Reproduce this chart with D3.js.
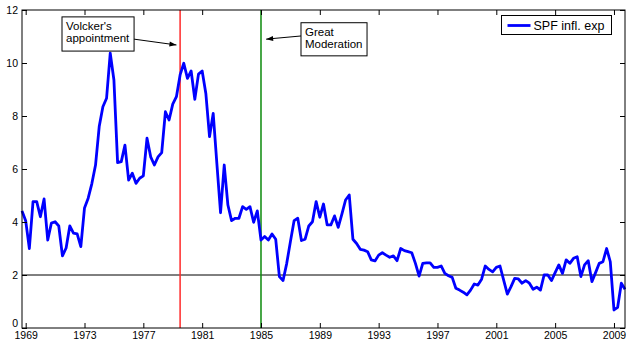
<!DOCTYPE html>
<html>
<head>
<meta charset="utf-8">
<script src="https://cdn.jsdelivr.net/npm/d3@7/dist/d3.min.js"></script>
<style>
  html, body { margin: 0; padding: 0; background: #fff; }
  svg { display: block; font-family: "Liberation Sans", Arial, Helvetica, sans-serif; }
</style>
</head>
<body>
<svg id="chart" width="626" height="341"></svg>
<script>
// Survey of Professional Forecasters: expected inflation, quarterly from 1968Q4
const startYear = 1968.75;
const spfInflExp = [
  4.42, 4.05, 3.00, 4.77, 4.77, 4.20, 4.87, 3.32, 3.96, 4.01,
  3.85, 2.72, 3.02, 3.85, 3.58, 3.55, 3.07, 4.53, 4.90, 5.45,
  6.15, 7.60, 8.35, 8.67, 10.37, 9.36, 6.24, 6.28, 6.90, 5.58,
  5.84, 5.46, 5.65, 5.74, 7.16, 6.46, 6.15, 6.46, 6.62, 8.16,
  7.85, 8.45, 8.73, 9.55, 9.99, 9.42, 9.70, 8.63, 9.58, 9.70,
  8.85, 7.22, 8.10, 6.20, 4.35, 6.15, 4.64, 4.05, 4.14, 4.14,
  4.58, 4.48, 4.58, 3.99, 4.42, 3.32, 3.45, 3.32, 3.55, 3.35,
  1.94, 1.79, 2.44, 3.26, 4.05, 4.14, 3.30, 3.35, 3.85, 4.01,
  4.77, 4.18, 4.68, 3.89, 3.89, 4.23, 3.80, 4.30, 4.83, 5.02,
  3.35, 3.19, 2.97, 2.94, 2.88, 2.57, 2.53, 2.75, 2.84, 2.75,
  2.67, 2.72, 2.54, 3.00, 2.92, 2.88, 2.84, 2.44, 1.96, 2.44,
  2.46, 2.46, 2.29, 2.29, 2.34, 2.06, 1.97, 1.91, 1.50, 1.43,
  1.35, 1.25, 1.43, 1.66, 1.62, 1.84, 2.34, 2.21, 2.12, 2.29,
  2.34, 1.81, 1.28, 1.56, 1.87, 1.85, 1.69, 1.79, 1.69, 1.46,
  1.54, 1.43, 2.00, 2.00, 1.79, 2.09, 2.38, 2.06, 2.57, 2.44,
  2.63, 2.69, 1.94, 2.38, 2.54, 1.75, 2.09, 2.44, 2.50, 3.00,
  2.50, 0.68, 0.78, 1.69, 1.46
];
const dates = spfInflExp.map((_, i) => startYear + i * 0.25);

const xTickYears = [1969, 1973, 1977, 1981, 1985, 1989, 1993, 1997, 2001, 2005, 2009];
const yTickValues = [0, 2, 4, 6, 8, 10, 12];
const targetLevel = 2;
const volckerDate = 1979.5;
const greatModerationDate = 1985;
const legendLabel = "SPF infl. exp";

const svg = d3.select("#chart");
const plotLeft = 22, plotRight = 625, plotTop = 10, plotBottom = 328;

const x = d3.scaleLinear().domain([startYear, dates[dates.length - 1]]).range([plotLeft, plotRight]);
const y = d3.scaleLinear().domain([0, 12]).range([plotBottom, plotTop]);

const fs = 10.5;

// reference level at 2%
svg.append("line")
  .attr("x1", plotLeft).attr("x2", plotRight)
  .attr("y1", y(targetLevel)).attr("y2", y(targetLevel))
  .attr("stroke", "#000").attr("stroke-width", 1);

// event markers
svg.append("line")
  .attr("x1", x(volckerDate)).attr("x2", x(volckerDate))
  .attr("y1", plotTop).attr("y2", plotBottom)
  .attr("stroke", "#ff2a2a").attr("stroke-width", 1.5);
svg.append("line")
  .attr("x1", x(greatModerationDate)).attr("x2", x(greatModerationDate))
  .attr("y1", plotTop).attr("y2", plotBottom)
  .attr("stroke", "#0c8a0c").attr("stroke-width", 1.5);

// expectations series
const line = d3.line().x((d, i) => x(dates[i])).y(d => y(d));
svg.append("path")
  .datum(spfInflExp)
  .attr("d", line)
  .attr("fill", "none")
  .attr("stroke", "#0000ff")
  .attr("stroke-width", 2.8)
  .attr("stroke-linejoin", "round");

// axes, MATLAB-style ticks pointing inward on all four sides
const tickLen = 5;
const gB = svg.append("g").attr("transform", `translate(0,${plotBottom})`)
  .call(d3.axisBottom(x).tickValues(xTickYears).tickFormat(d3.format("d")).tickSize(-tickLen).tickPadding(4));
const gT = svg.append("g").attr("transform", `translate(0,${plotTop})`)
  .call(d3.axisTop(x).tickValues(xTickYears).tickFormat("").tickSize(-tickLen));
const gL = svg.append("g").attr("transform", `translate(${plotLeft},0)`)
  .call(d3.axisLeft(y).tickValues(yTickValues).tickFormat(d3.format("d")).tickSize(-tickLen).tickPadding(4));
const gR = svg.append("g").attr("transform", `translate(${plotRight},0)`)
  .call(d3.axisRight(y).tickValues(yTickValues).tickFormat("").tickSize(-tickLen));

[gB, gT, gL, gR].forEach(g => {
  g.select(".domain").remove();
  g.selectAll(".tick line").attr("stroke", "#000").attr("stroke-width", 1);
  g.selectAll(".tick text").attr("fill", "#000").style("font-size", fs + "px")
    .style("font-family", "'Liberation Sans', Arial, sans-serif");
});
// lift the bottom y label so it clears the first year label
gL.selectAll(".tick text").filter(d => d === 0).attr("dy", "-0.12em");

svg.append("rect")
  .attr("x", plotLeft).attr("y", plotTop)
  .attr("width", plotRight - plotLeft).attr("height", plotBottom - plotTop)
  .attr("fill", "none").attr("stroke", "#000").attr("stroke-width", 1);

// annotations: text boxes with arrows, positioned in data units
function arrow(x1, y1, x2, y2) {
  svg.append("line").attr("x1", x1).attr("y1", y1).attr("x2", x2).attr("y2", y2)
    .attr("stroke", "#000").attr("stroke-width", 1);
  const a = Math.atan2(y2 - y1, x2 - x1), L = 7, W = 2.5;
  const bx = x2 - L * Math.cos(a), by = y2 - L * Math.sin(a);
  const pts = [[x2, y2],
    [bx + W * Math.sin(a), by - W * Math.cos(a)],
    [bx - W * Math.sin(a), by + W * Math.cos(a)]];
  svg.append("polygon").attr("points", pts.map(p => p.join(",")).join(" ")).attr("fill", "#000");
}

function textBox(x0, y0, w, h, lines) {
  svg.append("rect").attr("x", x0).attr("y", y0).attr("width", w).attr("height", h)
    .attr("fill", "#fff").attr("stroke", "#000").attr("stroke-width", 1);
  lines.forEach((t, i) => {
    svg.append("text").attr("x", x0 + 4).attr("y", y0 + 13 + i * 12)
      .style("font-size", "11.5px").attr("fill", "#000").text(t);
  });
}

// Volcker's appointment
textBox(x(1971.47), y(11.74), x(1976.37) - x(1971.47), y(10.45) - y(11.74), ["Volcker's", "appointment"]);
arrow(x(1976.37), y(10.9), x(1979.25), y(10.68));

// Great Moderation
textBox(x(1987.72), y(11.52), x(1992.21) - x(1987.72), y(10.27) - y(11.52), ["Great", "Moderation"]);
arrow(x(1987.72), y(11.02), x(1985.35), y(10.9));

// legend
const lgX = 501.5, lgY = 15.5, lgW = 110, lgH = 19;
svg.append("rect").attr("x", lgX).attr("y", lgY).attr("width", lgW).attr("height", lgH)
  .attr("fill", "#fff").attr("stroke", "#000").attr("stroke-width", 1);
svg.append("line").attr("x1", lgX + 6).attr("x2", lgX + 29)
  .attr("y1", lgY + 10).attr("y2", lgY + 10)
  .attr("stroke", "#0000ff").attr("stroke-width", 2.8);
svg.append("text").attr("x", lgX + 32).attr("y", lgY + 14.5)
  .style("font-size", "12.5px").attr("fill", "#000").text(legendLabel);
</script>
</body>
</html>
